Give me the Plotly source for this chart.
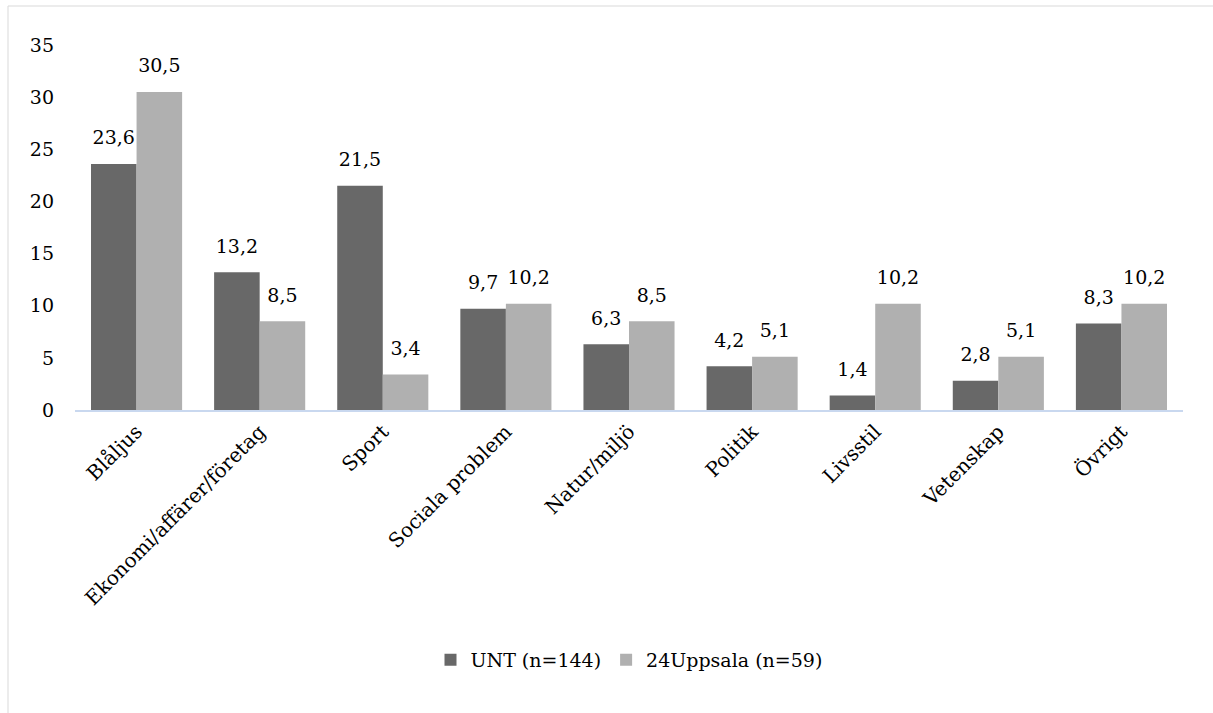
import plotly.graph_objects as go

categories = ["Blåljus", "Ekonomi/affärer/företag", "Sport", "Sociala problem",
              "Natur/miljö", "Politik", "Livsstil", "Vetenskap", "Övrigt"]
unt_values = [23.6, 13.2, 21.5, 9.7, 6.3, 4.2, 1.4, 2.8, 8.3]
uppsala_values = [30.5, 8.5, 3.4, 10.2, 8.5, 5.1, 10.2, 5.1, 10.2]
series_names = ["UNT (n=144)", "24Uppsala (n=59)"]
y_ticks = [0, 5, 10, 15, 20, 25, 30, 35]

FONT = "DejaVu Serif"
W, H = 1213, 713
L, R, T, B = 75, 30, 45, 303

fig = go.Figure()
series = [(series_names[0], unt_values, "#686868", "a"),
          (series_names[1], uppsala_values, "#b0b0b0", "b")]
for name, vals, color, grp in series:
    fig.add_trace(go.Bar(
        x=categories, y=vals, name=name, offsetgroup=grp,
        marker=dict(color=color, line=dict(width=0)),
    ))
# value labels, placed above each bar through grouped scatter points
for name, vals, color, grp in series:
    fig.add_trace(go.Scatter(
        x=categories, y=vals, offsetgroup=grp, mode="markers+text",
        marker=dict(size=22, opacity=0), showlegend=False, hoverinfo="skip",
        texttemplate="%{y:.1f}", textposition="top center",
        textfont=dict(family=FONT, size=19, color="#000000"),
        cliponaxis=False,
    ))

pw = W - L - R
ph = H - T - B
fig.update_layout(
    width=W, height=H,
    margin=dict(l=L, r=R, t=T, b=B),
    paper_bgcolor="white", plot_bgcolor="white",
    separators=", ",
    barmode="group", scattermode="group", bargap=0.26, bargroupgap=0,
    font=dict(family=FONT, size=19, color="#000000"),
    showlegend=True,
    legend=dict(orientation="h", x=0.5, xanchor="center",
                y=(T + ph - 660) / ph, yanchor="middle",
                font=dict(family=FONT, size=19), itemwidth=30,
                bgcolor="rgba(0,0,0,0)"),
    xaxis=dict(tickangle=-45, showline=True, linecolor="#c9d8ef", linewidth=2,
               ticks="", showgrid=False, zeroline=False,
               tickfont=dict(family=FONT, size=20)),
    yaxis=dict(range=[0, 35], tickvals=y_ticks, showgrid=False, zeroline=False,
               showline=False, ticks="", ticklabelstandoff=20,
               tickfont=dict(family=FONT, size=19)),
    shapes=[dict(type="rect", xref="paper", yref="paper",
                 x0=(8 - L) / pw, x1=(W + 20 - L) / pw,
                 y0=-(H + 20 - T - ph) / ph, y1=(T + ph - 6) / ph,
                 line=dict(color="#d9d9d9", width=1), fillcolor="rgba(0,0,0,0)",
                 layer="below")],
)

fig.write_html("out.html")
